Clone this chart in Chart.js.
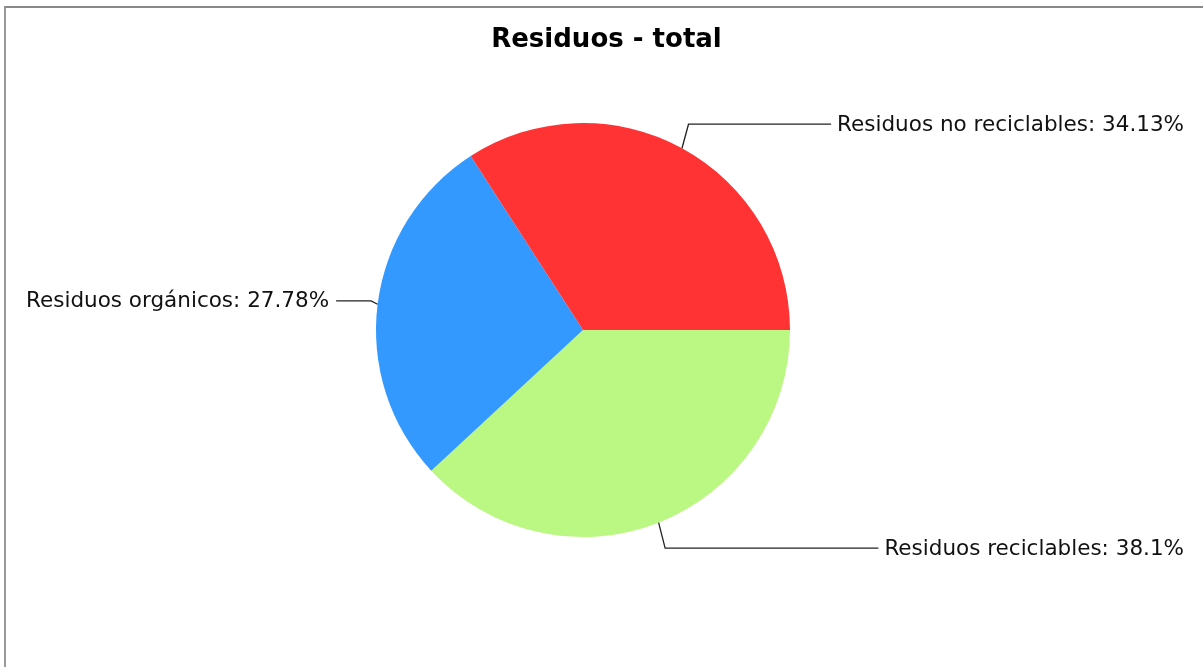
<!DOCTYPE html>
<html>
<head>
<meta charset="utf-8">
<script src="https://cdn.jsdelivr.net/npm/chart.js@4.4.0/dist/chart.umd.min.js"></script>
<style>
    html, body { margin: 0; padding: 0; background: #fff; }
    #wrap { position: relative; width: 1203px; height: 667px; }
    #frame { position: absolute; left: 4px; top: 6px; right: 0; bottom: 0; border-left: 2px solid #999; border-top: 2px solid #888; pointer-events: none; }
</style>
</head>
<body>
<div id="wrap">
    <canvas id="chart" width="1203" height="667"></canvas>
    <div id="frame"></div>
</div>
<script>
// orden horario desde las 3 en punto (el original va en sentido antihorario)
let categories = ['Residuos reciclables', 'Residuos orgánicos', 'Residuos no reciclables']
let values = [38.1, 27.78, 34.13]
let colors = ['#bbf783', '#3399ff', '#ff3333']
let titleText = 'Residuos - total'

const FONT = 'DejaVu Sans'

// titulo centrado en todo el ancho (no en el area del grafico)
const chartTitle = {
    id: 'chartTitle',
    afterDraw(chart) {
        let ctx = chart.ctx
        ctx.save()
        ctx.font = 'bold 26px ' + FONT
        ctx.fillStyle = '#000'
        ctx.textAlign = 'center'
        ctx.textBaseline = 'middle'
        ctx.fillText(titleText, chart.width / 2 + 5, 40)
        ctx.restore()
    }
}

// etiquetas con linea de enlace, estilo JFreeChart
const linkLabels = {
    id: 'linkLabels',
    afterDatasetsDraw(chart) {
        let ctx = chart.ctx
        let meta = chart.getDatasetMeta(0)
        ctx.save()
        ctx.font = '21.5px ' + FONT
        ctx.strokeStyle = '#222'
        ctx.lineWidth = 1.3
        ctx.fillStyle = '#111'
        ctx.textBaseline = 'middle'
        meta.data.forEach((arc, i) => {
            let { x, y, startAngle, endAngle, outerRadius } = arc.getProps(['x', 'y', 'startAngle', 'endAngle', 'outerRadius'], true)
            let mid = (startAngle + endAngle) / 2
            let cos = Math.cos(mid), sin = Math.sin(mid)
            let right = cos >= 0
            let text = categories[i] + ': ' + values[i] + '%'
            let w = ctx.measureText(text).width
            let ax = x + cos * outerRadius
            let ay = y + sin * outerRadius
            let ex = ax + (right ? 6.5 : -6.5)
            let ey = y + sin * outerRadius * 1.132
            // derecha: alineado al borde derecho; izquierda: al borde izquierdo
            let tx = right ? chart.width - 19 - w : 26
            let lx = right ? tx - 6 : tx + w + 7
            ctx.beginPath()
            ctx.moveTo(ax, ay)
            ctx.lineTo(ex, ey)
            ctx.lineTo(lx, ey)
            ctx.stroke()
            ctx.textAlign = 'left'
            ctx.fillText(text, tx, ey + 1)
        })
        ctx.restore()
    }
}

let ctx = document.getElementById('chart').getContext('2d')
let chart = new Chart(ctx, {
    type: 'pie',
    data: {
        labels: categories,
        datasets: [{
            data: values,
            backgroundColor: colors,
            borderWidth: 0
        }]
    },
    options: {
        responsive: false,
        animation: false,
        rotation: 90,
        layout: {
            padding: { left: 0, right: 37, top: 123, bottom: 130 }
        },
        plugins: {
            legend: { display: false },
            tooltip: { enabled: false },
            title: { display: false }
        }
    },
    plugins: [linkLabels, chartTitle]
})
</script>
</body>
</html>
